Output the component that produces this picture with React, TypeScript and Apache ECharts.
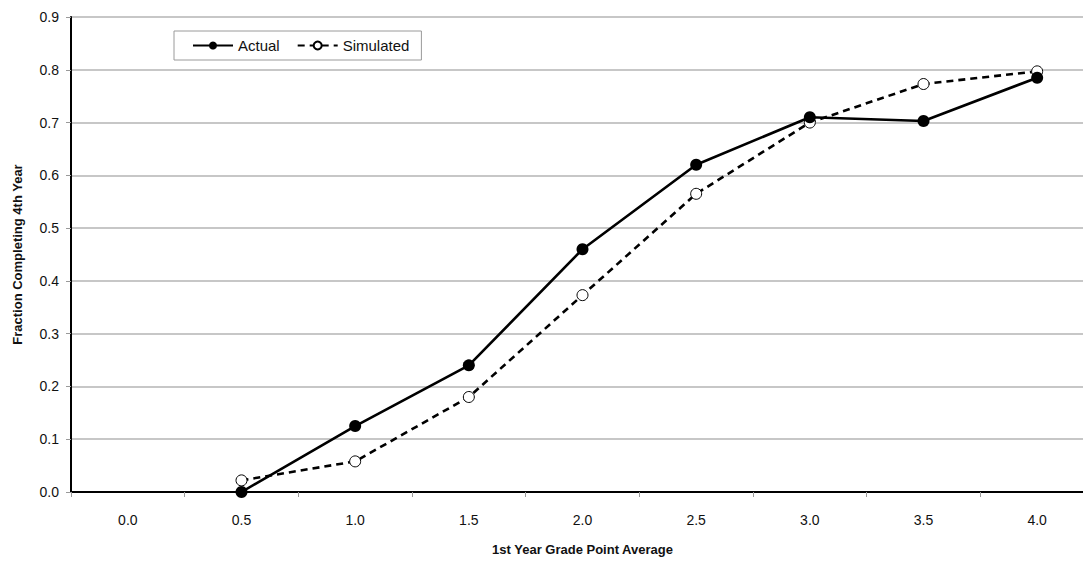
import React, { useEffect, useRef } from "react";
import * as echarts from "echarts";

const categories = ["0.0", "0.5", "1.0", "1.5", "2.0", "2.5", "3.0", "3.5", "4.0"];
const actual = [null, 0.0, 0.125, 0.24, 0.46, 0.62, 0.71, 0.703, 0.785];
const simulated = [null, 0.022, 0.058, 0.18, 0.373, 0.565, 0.7, 0.773, 0.797];
const yTicks = { min: 0, max: 0.9, interval: 0.1 };

const FONT = "'Liberation Sans', Arial, sans-serif";

export default function App() {
  const ref = useRef<HTMLDivElement>(null);
  useEffect(() => {
    if (!ref.current) return;
    const chart = echarts.init(ref.current, null, { renderer: "svg" });
    chart.setOption({
      animation: false,
      backgroundColor: "#ffffff",
      textStyle: { fontFamily: FONT },
      grid: { left: 71, right: 6, top: 17, bottom: 70, containLabel: false },
      legend: {
        left: 174,
        top: 31,
        padding: [7, 12, 7, 18],
        borderColor: "#9a9a9a",
        borderWidth: 1,
        itemWidth: 40,
        itemHeight: 10,
        itemGap: 17,
        textStyle: { fontFamily: FONT, fontSize: 15, color: "#111" },
        data: ["Actual", "Simulated"],
      },
      xAxis: {
        type: "category",
        data: categories,
        boundaryGap: true,
        name: "1st Year Grade Point Average",
        nameLocation: "middle",
        nameGap: 51,
        nameTextStyle: { fontFamily: FONT, fontSize: 13, fontWeight: "bold", color: "#111" },
        axisLine: { lineStyle: { color: "#000", width: 2 } },
        axisTick: { show: true, length: 5, lineStyle: { color: "#999" } },
        axisLabel: { margin: 21, fontFamily: FONT, fontSize: 14, color: "#111" },
        splitLine: { show: false },
      },
      yAxis: {
        type: "value",
        min: yTicks.min,
        max: yTicks.max,
        interval: yTicks.interval,
        name: "Fraction Completing 4th Year",
        nameLocation: "middle",
        nameGap: 47,
        nameTextStyle: { fontFamily: FONT, fontSize: 13, fontWeight: "bold", color: "#111" },
        axisLine: { show: true, lineStyle: { color: "#000", width: 2 } },
        axisTick: { show: true, length: 5, lineStyle: { color: "#999" } },
        axisLabel: {
          margin: 12,
          fontFamily: FONT,
          fontSize: 14,
          color: "#111",
          formatter: (v: number) => v.toFixed(1),
        },
        splitLine: { show: true, lineStyle: { color: "#b4b4b4", width: 1.5 } },
      },
      series: [
        {
          name: "Actual",
          type: "line",
          data: actual,
          symbol: "circle",
          symbolSize: 12,
          itemStyle: { color: "#000" },
          lineStyle: { color: "#000", width: 2.6 },
          z: 3,
        },
        {
          name: "Simulated",
          type: "line",
          data: simulated,
          symbol: "circle",
          symbolSize: 11,
          itemStyle: { color: "#fff", borderColor: "#000", borderWidth: 1 },
          lineStyle: { color: "#000", width: 2.6, type: [7, 5] },
          z: 2,
        },
      ],
    });
    return () => chart.dispose();
  }, []);
  return (
    <div style={{ position: "absolute", left: 0, top: 0, width: 1083, height: 562, overflow: "hidden", background: "#fff" }}>
      <div ref={ref} style={{ width: 1100, height: 562 }} />
    </div>
  );
}
